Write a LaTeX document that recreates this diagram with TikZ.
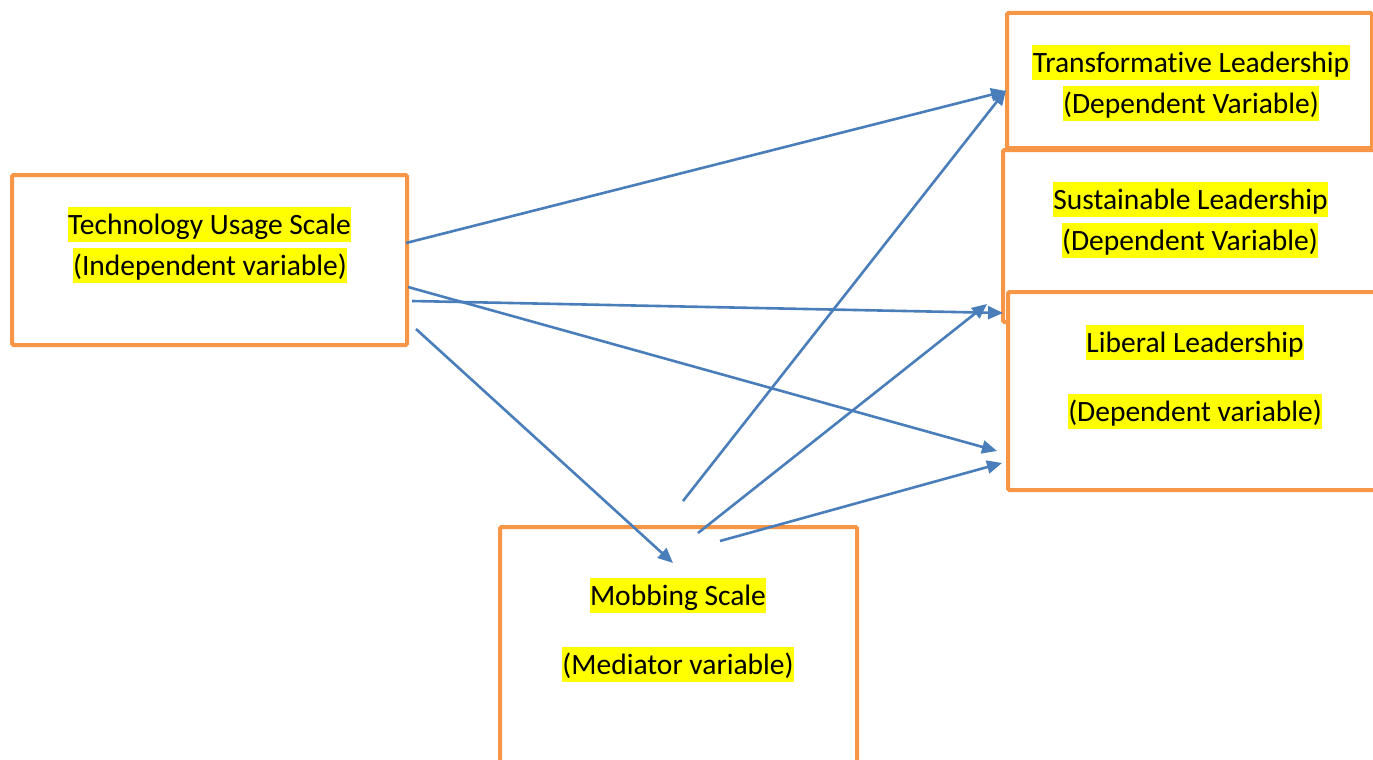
\documentclass[tikz,border=0pt]{standalone}
\usepackage{fontspec}
\setmainfont[Ligatures=NoCommon]{Carlito}
\usetikzlibrary{arrows.meta}
\definecolor{boxorange}{RGB}{247,150,70}
\definecolor{arrowblue}{RGB}{74,126,187}
\definecolor{hiyellow}{RGB}{255,255,0}
\tikzset{
  varbox/.style={draw=boxorange, line width=4pt, fill=white, rounded corners=1.5pt, inner sep=0pt},
  hl/.style={fill=hiyellow, inner xsep=0.5pt, inner ysep=0pt, text height=27pt, text depth=8pt, anchor=base,
             font=\fontsize{29.5}{35}\selectfont},
  link/.style={draw=arrowblue, line width=2.6pt, -{Triangle[length=15pt,width=13pt]}}
}
\begin{document}
\begin{tikzpicture}[x=1pt,y=-1pt]
\clip (0,0) rectangle (1373,760);
\fill[white] (0,0) rectangle (1373,760);
% boxes
\node[varbox, minimum width=395pt, minimum height=170pt] (tech) at (209.5,260) {};
\node[varbox, minimum width=365pt, minimum height=135pt] (trans) at (1189.5,80.5) {};
\node[varbox, minimum width=382pt, minimum height=172pt] (sust) at (1194,236) {};
\node[varbox, minimum width=377pt, minimum height=198pt] (lib) at (1196.5,391) {};
\node[varbox, minimum width=357pt, minimum height=253pt] (mob) at (678.5,653.5) {};
% texts
\node[hl] (techA) at (209.5,234) {Technology Usage Scale};
\node[hl] (techB) at (210,275) {(Independent variable)};
\node[hl] (transA) at (1191,72) {Transformative Leadership};
\node[hl] (transB) at (1191,113) {(Dependent Variable)};
\node[hl] (sustA) at (1190.5,209) {Sustainable Leadership};
\node[hl] (sustB) at (1190,250) {(Dependent Variable)};
\node[hl] (libA) at (1195,352) {Liberal Leadership};
\node[hl] (libB) at (1195,421) {(Dependent variable)};
\node[hl] (mobA) at (678,605) {Mobbing Scale};
\node[hl] (mobB) at (678,674) {(Mediator variable)};
% connector end points
\coordinate (t1) at (406,243);
\coordinate (t2) at (412,301);
\coordinate (t3) at (408,287);
\coordinate (t4) at (416,329);
\coordinate (e1) at (1006,91);
\coordinate (e2) at (1003,313);
\coordinate (e3) at (997,451);
\coordinate (e4) at (673,563);
\coordinate (m1) at (683,501);
\coordinate (m2) at (698,533);
\coordinate (m3) at (720,541);
\coordinate (f1) at (1006,90);
\coordinate (f2) at (987,304);
\coordinate (f3) at (1002,463);
% connectors
\draw[link] (t1) -- (e1);
\draw[link] (t2) -- (e2);
\draw[link] (t3) -- (e3);
\draw[link] (t4) -- (e4);
\draw[link] (m1) -- (f1);
\draw[link] (m2) -- (f2);
\draw[link] (m3) -- (f3);
\end{tikzpicture}
\end{document}
